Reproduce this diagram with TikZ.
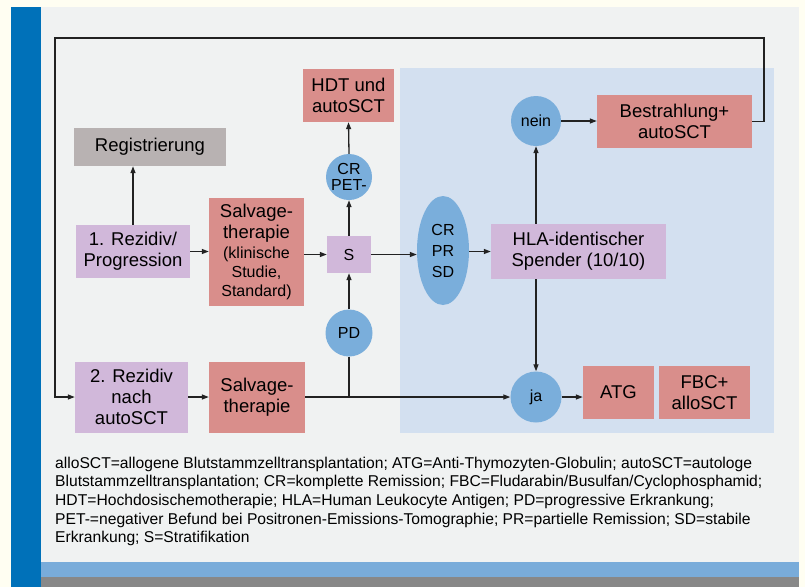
\documentclass[tikz,border=0pt]{standalone}
\usepackage{fontspec}
\setmainfont{Liberation Sans}
\usetikzlibrary{shapes.geometric,arrows.meta}
\definecolor{creamc}{HTML}{FFFEF2}
\definecolor{barblue}{HTML}{0071B9}
\definecolor{panelc}{HTML}{F0F2F2}
\definecolor{hlabg}{HTML}{D3E0F0}
\definecolor{pinkc}{HTML}{D98E8B}
\definecolor{lavc}{HTML}{D1B8DA}
\definecolor{grayboxc}{HTML}{B8B2B2}
\definecolor{circc}{HTML}{7AAEDB}
\definecolor{bandblue}{HTML}{79ACDA}
\definecolor{bandgray}{HTML}{888888}
\definecolor{linec}{HTML}{222222}
\newcommand{\fbigx}{\fontsize{18.5}{21}\selectfont}
\newcommand{\fsmallx}{\fontsize{16}{19}\selectfont}
\begin{document}
\begin{tikzpicture}[x=1pt,y=-1pt,
  boxbase/.style={rectangle, inner sep=0pt, align=center, font=\fbigx, text=black},
  pinkbox/.style={boxbase, fill=pinkc},
  lavbox/.style={boxbase, fill=lavc},
  graybox/.style={boxbase, fill=grayboxc},
  circ/.style={circle, fill=circc, inner sep=0pt, align=center, font=\fsmallx},
  conn/.style={draw=linec, line width=1.3pt},
  arr/.style={conn, -{Triangle[length=7pt,width=5pt]}}
]
\useasboundingbox (0,0) rectangle (805,587);
\fill[creamc] (0,0) rectangle (805,587);
\fill[barblue] (11,7) rectangle (41,587);
\fill[panelc] (41,7) rectangle (799,562);
\fill[bandblue] (41,562) rectangle (799,577);
\fill[bandgray] (41,577) rectangle (799,587);
\fill[hlabg] (400,68) rectangle (774,433);

% nodes
\node[pinkbox, minimum width=91, minimum height=53] (hdt) at (348.5,95.5) {HDT und\\autoSCT};
\node[graybox, minimum width=152, minimum height=38] (reg) at (150,147) {Registrierung};
\node[circ, minimum size=46, font=\fontsize{16}{16}\selectfont] (crpet) at (349,177) {CR\\PET-};
\node[lavbox, minimum width=114, minimum height=53] (r1) at (133,251.5) {1. Rezidiv/\\Progression};
\node[pinkbox, minimum width=95, minimum height=108] (salv1) at (256.5,252)
  {Salvage-\\therapie\\[-1pt]{\fsmallx (klinische}\\[-2pt]{\fsmallx Studie,}\\[-2pt]{\fsmallx Standard)}};
\node[lavbox, minimum width=44, minimum height=37, font=\fsmallx] (s) at (349,254.5) {S};
\node[circ, minimum size=47] (pd) at (349,333) {PD};
\node[lavbox, minimum width=113, minimum height=71] (r2) at (131.5,397) {2. Rezidiv\\nach\\autoSCT};
\node[pinkbox, minimum width=96, minimum height=71] (salv2) at (257,397) {Salvage-\\therapie};
\node[ellipse, fill=circc, minimum width=52, minimum height=109, inner sep=0pt, align=center,
  font=\fontsize{16}{21}\selectfont] (cps) at (443,250.5) {CR\\PR\\SD};
\node[lavbox, minimum width=175, minimum height=55] (hla) at (578.5,251.5) {HLA-identischer\\Spender (10/10)};
\node[circ, minimum size=50] (nein) at (536,121) {nein};
\node[pinkbox, minimum width=155, minimum height=53] (best) at (674.5,121.5) {Bestrahlung+\\autoSCT};
\node[circ, minimum size=51] (ja) at (536,397) {ja};
\node[pinkbox, minimum width=71, minimum height=53] (atg) at (618.5,392.5) {ATG};
\node[pinkbox, minimum width=91, minimum height=53] (fbc) at (704.5,392.5) {FBC+\\alloSCT};

% connectors
\draw[arr] (r1.north) -- (r1.north |- reg.south);
\draw[arr] (r1.east) -- (salv1.west |- r1.east);
\draw[arr] (salv1.east |- s.west) -- (s.west);
\draw[arr] (s.north) -- (crpet.south);
\draw[arr] (crpet.north) -- (hdt.south);
\draw[arr] (pd.north) -- (s.south);
\draw[arr] (s.east) -- (cps.west |- s.east);
\draw[arr] (cps.east |- hla.west) -- (hla.west);
\draw[arr] (nein |- hla.north) -- (nein.south);
\draw[arr] (nein |- hla.south) -- (ja.north);
\draw[arr] (nein.east) -- (best.west |- nein.east);
\coordinate (tr) at (764,38);
\coordinate (tl) at (55,38);
\draw[arr] (best.east) -| (tr) -- (tl) |- (r2.west);
\draw[arr] (r2.east) -- (salv2.west);
\draw[arr] (salv2.east) -- (ja.west);
\draw[conn] (pd.south) -- (pd |- ja);
\draw[arr] (ja.east) -- (ja.east -| atg.west);

% legend
\node[anchor=north west, inner sep=0pt, align=left, font=\fontsize{15.65}{18.6}\selectfont, text=black] (legend) at (55,456.8)
{alloSCT=allogene Blutstammzelltransplantation; ATG=Anti-Thymozyten-Globulin; autoSCT=autologe\\
Blutstammzelltransplantation; CR=komplette Remission; FBC=Fludarabin/Busulfan/Cyclophosphamid;\\
HDT=Hochdosischemotherapie; HLA=Human Leukocyte Antigen; PD=progressive Erkrankung;\\
PET-=negativer Befund bei Positronen-Emissions-Tomographie; PR=partielle Remission; SD=stabile\\
Erkrankung; S=Stratifikation};
\end{tikzpicture}
\end{document}
